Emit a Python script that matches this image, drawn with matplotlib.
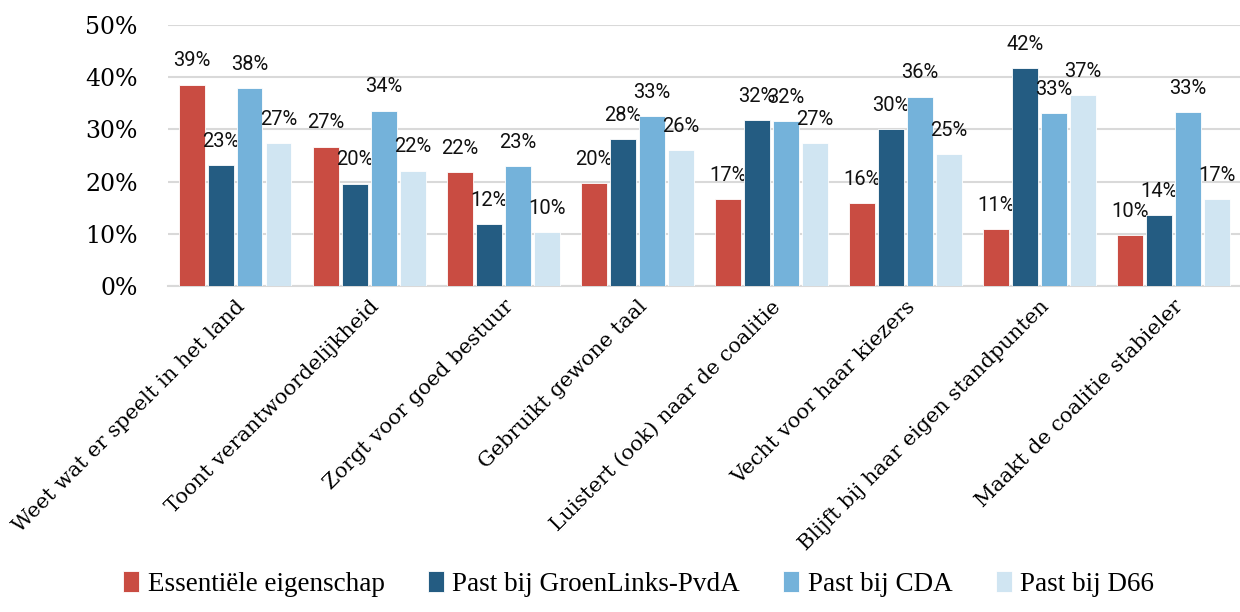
import numpy as np
import matplotlib
matplotlib.use("Agg")
import matplotlib.pyplot as plt

categories = [
    "Weet wat er speelt in het land",
    "Toont verantwoordelijkheid",
    "Zorgt voor goed bestuur",
    "Gebruikt gewone taal",
    "Luistert (ook) naar de coalitie",
    "Vecht voor haar kiezers",
    "Blijft bij haar eigen standpunten",
    "Maakt de coalitie stabieler",
]
series_names = [
    "Essentiële eigenschap",
    "Past bij GroenLinks-PvdA",
    "Past bij CDA",
    "Past bij D66",
]
essentieel = [38.6, 26.7, 21.8, 19.7, 16.6, 15.9, 10.8, 9.8]
glpvda = [23.2, 19.6, 11.8, 28.2, 31.8, 30.1, 41.7, 13.6]
cda = [37.9, 33.6, 23.0, 32.6, 31.6, 36.3, 33.1, 33.4]
d66 = [27.3, 22.1, 10.3, 26.1, 27.4, 25.3, 36.6, 16.6]
yticks = [0, 10, 20, 30, 40, 50]

colors = ["#c94c42", "#245c82", "#74b2da", "#d0e5f2"]
serif = "DejaVu Serif"

fig = plt.figure(figsize=(12.4, 6.12), dpi=100)
ax = fig.add_axes([0.1355, 0.533, 0.865, 0.426])

x = np.arange(len(categories))
step = 0.216
width = 0.193
for i, (vals, name, col) in enumerate(zip([essentieel, glpvda, cda, d66],
                                           series_names, colors)):
    pos = x + (i - 1.5) * step
    ax.bar(pos, vals, width, color=col, label=name,
           edgecolor="white", linewidth=0.6, zorder=3)
    for p, v in zip(pos, vals):
        ax.annotate("{:.0f}%".format(v), (p, v), xytext=(0, 17),
                    textcoords="offset points", ha="center", va="center",
                    fontsize=14.5, family="Roboto", color="#111111")

ax.set_xlim(-0.5, len(categories) - 0.5)
ax.set_ylim(0, 50)
ax.set_yticks(yticks)
ax.set_yticklabels(["{}%".format(t) for t in yticks], family=serif,
                   fontsize=17)
ax.set_xticks(x)
ax.set_xticklabels(categories, rotation=45, ha="right",
                   rotation_mode="anchor", family=serif, fontsize=15)
ax.tick_params(length=0, pad=8)
ax.tick_params(axis="y", pad=22)
ax.grid(axis="y", color="#d9d9d9", linewidth=1.5, zorder=0)
for s in ["top", "right", "left"]:
    ax.spines[s].set_visible(False)
ax.spines["bottom"].set_color("#d9d9d9")
ax.spines["bottom"].set_linewidth(1.5)

fig.legend(loc="lower center", bbox_to_anchor=(0.515, -0.015), ncol=4,
           frameon=False, handlelength=0.6, handleheight=0.8,
           handletextpad=0.3, columnspacing=1.6,
           prop={"family": "Liberation Serif", "size": 19.5})

fig.savefig("out.png", dpi=100)
